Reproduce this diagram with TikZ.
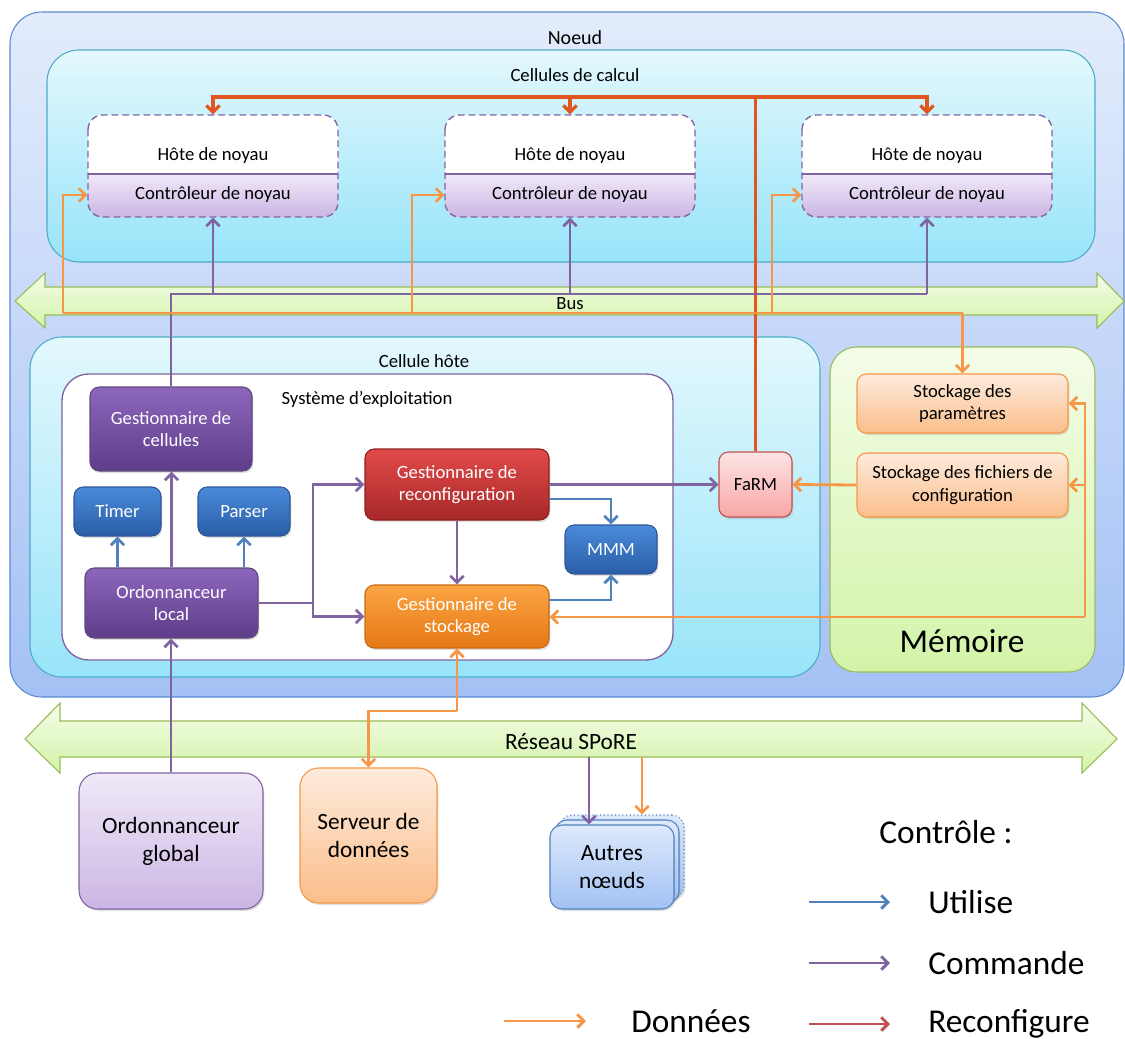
\documentclass[tikz,border=0pt]{standalone}
\usepackage{fontspec}
\setmainfont{Carlito}
\usetikzlibrary{arrows.meta,fit,shadows,calc}

\definecolor{cpurple}{HTML}{8064A2}
\definecolor{cblue}{HTML}{4F81BD}
\definecolor{corange}{HTML}{F79646}
\definecolor{cred}{HTML}{E0561E}
\definecolor{clegred}{HTML}{C0504D}
\definecolor{noeudT}{HTML}{E3ECFC}
\definecolor{noeudB}{HTML}{A4C1F5}
\definecolor{noeudD}{HTML}{5B8BD0}
\definecolor{cyanT}{HTML}{E3F8FD}
\definecolor{cyanB}{HTML}{98E4F9}
\definecolor{cyanD}{HTML}{4BACC6}
\definecolor{greenT}{HTML}{F4FDE8}
\definecolor{greenB}{HTML}{D3F3A8}
\definecolor{greenD}{HTML}{9BBB59}
\definecolor{lavT}{HTML}{F0E9F8}
\definecolor{lavB}{HTML}{CBB6E4}
\definecolor{dpurT}{HTML}{8D66BC}
\definecolor{dpurB}{HTML}{5E3D8A}
\definecolor{dpurD}{HTML}{5F497A}
\definecolor{dbluT}{HTML}{4A8BD9}
\definecolor{dbluB}{HTML}{2A5DA8}
\definecolor{dbluD}{HTML}{2F5597}
\definecolor{dredT}{HTML}{E24A4A}
\definecolor{dredB}{HTML}{A82828}
\definecolor{dredD}{HTML}{8C2020}
\definecolor{dorT}{HTML}{FBA444}
\definecolor{dorB}{HTML}{E57914}
\definecolor{dorD}{HTML}{C86A10}
\definecolor{pinkT}{HTML}{FDE4E4}
\definecolor{pinkB}{HTML}{F8A6A6}
\definecolor{lorT}{HTML}{FDEBDC}
\definecolor{lorB}{HTML}{FBBE8B}
\definecolor{lbluT}{HTML}{DDE9FC}
\definecolor{lbluB}{HTML}{A2C1F3}

\newcommand\fsS{\fontsize{14}{17}\selectfont}
\newcommand\fsN{\fontsize{15}{18}\selectfont}
\newcommand\fsM{\fontsize{17.5}{21}\selectfont}
\newcommand\fsL{\fontsize{25}{30}\selectfont}

\tikzset{
  arr/.style={-{Straight Barb[length=5pt,width=10pt]}},
  pl/.style={draw=cpurple, line width=2.1pt},
  bl/.style={draw=cblue, line width=2.1pt},
  ol/.style={draw=corange, line width=2.1pt},
  rl/.style={draw=cred, line width=2.5pt},
  cont/.style={inner sep=0pt, line width=0.8pt},
  sz/.style 2 args={minimum width=#1*0.75pt, minimum height=#2*0.75pt},
  box/.style={inner sep=0pt, align=center, rounded corners=7pt, line width=0.8pt, font=\fsS,
    drop shadow={opacity=0.25, shadow xshift=1pt, shadow yshift=-1.5pt}},
  darkpur/.style={box, draw=dpurD, top color=dpurT, bottom color=dpurB, text=white},
  darkblu/.style={box, draw=dbluD, top color=dbluT, bottom color=dbluB, text=white},
  lightor/.style={box, draw=corange, top color=lorT, bottom color=lorB},
  txt/.style={inner sep=0pt, font=\fsS},
  greenarrow/.style={draw=greenD, line width=0.8pt, top color=greenT, bottom color=greenB},
}

\begin{document}
\begin{tikzpicture}[x=0.75pt,y=-0.75pt]
\useasboundingbox (0,0) rectangle (1125,1039);

% ---------- containers ----------
\node[cont, fit={(10,12) (1124,697)}, draw=noeudD, top color=noeudT, bottom color=noeudB, rounded corners=24pt] (noeud) {};
\node[font=\fsN, inner sep=0pt] (lnoeud) at (575,38) {Noeud};

\node[cont, fit={(47,50) (1095,262)}, draw=cyanD, top color=cyanT, bottom color=cyanB, rounded corners=24pt] (calc) {};
\node[txt] (lcalc) at (575,75) {Cellules de calcul};

% Bus
\draw[greenarrow] (15,301) -- (45,273) -- (45,287) -- (1097,287) -- (1097,273) -- (1124,301)
  -- (1097,328) -- (1097,315) -- (45,315) -- (45,328) -- cycle;
\node[txt] (lbus) at (570,304) {Bus};

\node[cont, fit={(30,337) (820,677)}, draw=cyanD, top color=cyanT, bottom color=cyanB, rounded corners=24pt] (hote) {};
\node[txt] (lhote) at (424,361) {Cellule hôte};

\node[cont, fit={(62,374) (673,660)}, draw=cpurple, fill=white, rounded corners=20pt, line width=1pt] (os) {};
\node[txt] (los) at (367,399) {Système d’exploitation};

\node[cont, fit={(830,347) (1095,672)}, draw=greenD, top color=greenT, bottom color=greenB, rounded corners=20pt] (mem) {};
\node[font=\fsL, inner sep=0pt] (lmem) at (962,641) {Mémoire};

% SPoRE network
\draw[greenarrow] (25,739) -- (60,703) -- (60,721) -- (1082,721) -- (1082,703) -- (1117,739)
  -- (1082,773) -- (1082,757) -- (60,757) -- (60,773) -- cycle;
\node[font=\fsM, inner sep=0pt] (lspore) at (571,742) {Réseau SPoRE};

% ---------- kernel cells ----------
\foreach \n/\x in {1/88,2/445,3/802}{
  \node[cont, fit={(\x,115) (\x+250,217)}, fill=white, rounded corners=11pt] (k\n) {};
  \begin{scope}
    \clip[rounded corners=11pt] (\x,115) rectangle (\x+250,217);
    \shade[top color=lavT, bottom color=lavB] (\x,174) rectangle (\x+250,217);
  \end{scope}
  \draw[cpurple, line width=1pt] (\x,174) -- (\x+250,174);
  \draw[cpurple, line width=1pt, dashed, dash pattern=on 5pt off 3pt, rounded corners=11pt] (\x,115) rectangle (\x+250,217);
  \node[txt] (h\n) at (\x+125,156) {Hôte de noyau};
  \node[txt] (c\n) at (\x+125,195) {Contrôleur de noyau};
}

% ---------- host cell boxes ----------
\node[darkpur, sz={162}{84}] (gcell) at (171,429) {Gestionnaire de\\cellules};
\node[darkblu, sz={87}{49}] (timer) at (117.5,511.5) {Timer};
\node[darkblu, sz={92}{49}] (parser) at (244,511.5) {Parser};
\node[darkpur, sz={173}{70}] (olocal) at (171.5,603) {Ordonnanceur\\local};
\node[box, draw=dredD, top color=dredT, bottom color=dredB, text=white, sz={184}{71}] (greconf) at (457,484.5) {Gestionnaire de\\reconfiguration};
\node[box, draw=dorD, top color=dorT, bottom color=dorB, text=white, sz={184}{63}] (gstock) at (457,616.5) {Gestionnaire de\\stockage};
\node[darkblu, sz={92}{49}] (mmm) at (611,549.5) {MMM};
\node[box, draw=clegred, top color=pinkT, bottom color=pinkB, sz={73}{65}] (farm) at (755.5,484.5) {FaRM};
\node[lightor, sz={211}{59}] (spar) at (962.5,403.5) {Stockage des\\paramètres};
\node[lightor, sz={211}{64}] (sfich) at (962.5,485) {Stockage des fichiers de\\configuration};

% ---------- external boxes ----------
\node[box, font=\fsM, rounded corners=14pt, draw=cpurple, top color=lavT, bottom color=lavB, sz={184}{136}] (oglob) at (171,841) {Ordonnanceur\\global};
\node[box, font=\fsM, rounded corners=14pt, draw=corange, top color=lorT, bottom color=lorB, sz={137}{135}] (serv) at (368.5,835.5) {Serveur de\\données};
\node[box, draw=cblue, dotted, top color=lbluT, bottom color=lbluB, rounded corners=9pt, sz={124}{83}] (aut3) at (622,856.5) {};
\node[box, draw=cblue, top color=lbluT, bottom color=lbluB, rounded corners=9pt, sz={124}{83}] (aut2) at (617,861.5) {};
\node[box, font=\fsM, draw=cblue, top color=lbluT, bottom color=lbluB, rounded corners=9pt, sz={124}{84}] (autres) at (612,867) {Autres\\nœuds};

% ---------- connectors ----------
% reconfiguration (red)
\coordinate (rbar) at (0,97);
\draw[rl] (farm.north) -- (farm.north |- rbar);
\draw[rl, arr] (farm.north |- rbar) -| (k1.north);
\draw[rl, arr] (farm.north |- rbar) -| (k2.north);
\draw[rl, arr] (farm.north |- rbar) -| (k3.north);

% command bus (purple)
\coordinate (pbar) at (0,294);
\draw[pl] (gcell.north) -- (gcell.north |- pbar) -- (k3.south |- pbar);
\draw[pl, arr] (k1.south |- pbar) -- (k1.south);
\draw[pl, arr] (k2.south |- pbar) -- (k2.south);
\draw[pl, arr] (k3.south |- pbar) -- (k3.south);

% data bus (orange)
\coordinate (o1) at (63,313);
\coordinate (o2) at (412,313);
\coordinate (o3) at (772,313);
\draw[ol] (o1) -- (o1 -| spar.north);
\draw[ol, arr] (o1 -| spar.north) -- (spar.north);
\draw[ol, arr] (o1) |- (c1 -| k1.west);
\draw[ol, arr] (o2) |- (c2 -| k2.west);
\draw[ol, arr] (o3) |- (c3 -| k3.west);

% inside OS
\draw[pl, arr] (olocal.north) -- (olocal.north |- gcell.south);
\draw[bl, arr] (timer.south |- olocal.north) -- (timer.south);
\draw[bl, arr] (parser.south |- olocal.north) -- (parser.south);
\coordinate (pj) at (313,603);
\draw[pl] (olocal.east) -- (pj);
\draw[pl, arr] (pj) |- (greconf.west);
\draw[pl, arr] (pj) |- (gstock.west);
\draw[pl, arr] (greconf.south) -- (gstock.north);
\draw[pl, arr] (greconf.east) -- (farm.west);
\coordinate (bm1) at (549,499);
\coordinate (bm2) at (549,600);
\draw[bl, arr] (bm1) -| (mmm.north);
\draw[bl, arr] (bm2) -| (mmm.south);

% memory data (orange)
\draw[ol, arr] (sfich.west) -- (farm.east);
\coordinate (oj) at (1085,617);
\draw[ol, arr] (oj) -- (oj -| gstock.east);
\draw[ol, arr] (oj) |- (spar.east);
\draw[ol, arr] (oj) |- (sfich.east);

% network
\coordinate (os1) at (457,711);
\draw[ol, arr] (os1) -- (gstock.south);
\draw[ol, arr] (os1) -| (serv.north);
\draw[pl, arr] (oglob.north) -- (oglob.north |- olocal.south);
\coordinate (sp1) at (589,757);
\coordinate (sp2) at (642,757);
\draw[pl, arr] (sp1) -- (sp1 |- autres.north);
\draw[ol, arr] (sp2) -- (sp2 |- aut3.north);

% ---------- legend ----------
\node[font=\fsL, inner sep=0pt] (lctrl) at (946,832) {Contrôle :};
\coordinate (lu1) at (809,902); \coordinate (lu2) at (890,902);
\coordinate (lc1) at (809,963); \coordinate (lc2) at (890,963);
\coordinate (lr1) at (809,1024); \coordinate (lr2) at (890,1024);
\coordinate (ld1) at (504,1021); \coordinate (ld2) at (586,1021);
\draw[bl, line width=2.2pt, arr] (lu1) -- (lu2);
\draw[pl, line width=2.2pt, arr] (lc1) -- (lc2);
\draw[draw=clegred, line width=2.2pt, arr] (lr1) -- (lr2);
\draw[ol, line width=2.2pt, arr] (ld1) -- (ld2);
\node[font=\fsL, inner sep=0pt, anchor=west] (lutil) at (928,902) {Utilise};
\node[font=\fsL, inner sep=0pt, anchor=west] (lcomm) at (928,963) {Commande};
\node[font=\fsL, inner sep=0pt, anchor=west] (lreco) at (928,1024) {Reconfigure};
\node[font=\fsL, inner sep=0pt, anchor=west] (ldonn) at (631,1021) {Données};
\end{tikzpicture}
\end{document}
